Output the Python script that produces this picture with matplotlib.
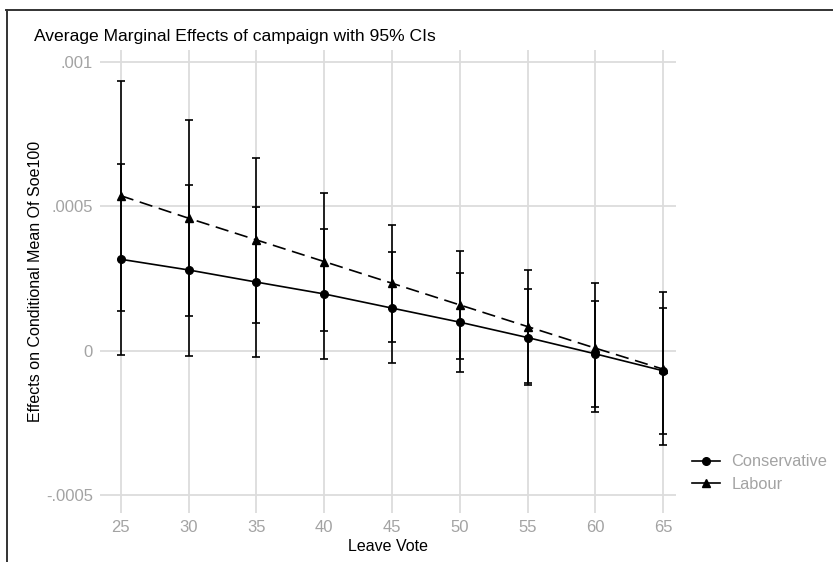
"""Average marginal effects of campaign by Leave vote, with 95% CIs."""

import matplotlib

matplotlib.use("Agg")

import matplotlib.pyplot as plt
from matplotlib.lines import Line2D

plt.rcParams["font.family"] = ["Liberation Sans", "DejaVu Sans"]

GRID, TICK_GREY, INK = "#dcdcdc", "#a3a3a3", "#000000"

leave_vote = [25, 30, 35, 40, 45, 50, 55, 60, 65]

conservative = [0.000316, 0.000279, 0.000237, 0.000196, 0.000147, 0.0000983, 0.000045, -0.0000114, -0.000070]
conservative_lo = [-0.0000149, -0.0000173, -0.0000208, -0.0000298, -0.0000436, -0.0000727, -0.000120, -0.000194, -0.000288]
conservative_hi = [0.000646, 0.000573, 0.000498, 0.000420, 0.000340, 0.000270, 0.000212, 0.000172, 0.000148]

labour = [0.000536, 0.000458, 0.000383, 0.000308, 0.000233, 0.000158, 0.000083, 0.0000083, -0.0000644]
labour_lo = [0.000138, 0.000120, 0.0000969, 0.0000682, 0.000029, -0.0000298, -0.000111, -0.000211, -0.000325]
labour_hi = [0.000933, 0.000798, 0.000668, 0.000545, 0.000434, 0.000345, 0.000279, 0.000233, 0.000202]

y_ticks = [-0.0005, 0, 0.0005, 0.001]
y_tick_labels = ["-.0005", "0", ".0005", ".001"]

fig = plt.figure(figsize=(8.33, 5.62), dpi=100, facecolor="white")
ax = fig.add_axes([0.120, 0.0872, 0.6915, 0.8238])


def draw_series(values, lo, hi, marker, linestyle, label):
    err = [[v - l for v, l in zip(values, lo)], [h - v for v, h in zip(values, hi)]]
    ax.errorbar(leave_vote, values, yerr=err, fmt="none", ecolor=INK,
                elinewidth=1.2, capsize=3, capthick=1.2, zorder=3)
    ax.plot(leave_vote, values, color=INK, linestyle=linestyle, linewidth=1.2,
            marker=marker, markersize=5.5, dashes=(8, 4) if linestyle == "--" else (None, None),
            label=label, zorder=4)


draw_series(labour, labour_lo, labour_hi, "^", "--", "Labour")
draw_series(conservative, conservative_lo, conservative_hi, "o", "-", "Conservative")

ax.set_xlim(23.47, 65.94)
ax.set_ylim(-0.000562, 0.00104)
ax.set_xticks(leave_vote)
ax.set_yticks(y_ticks, y_tick_labels)
ax.tick_params(length=0, labelsize=12, colors=TICK_GREY, pad=5)
ax.grid(True, color=GRID, linewidth=1.3)
ax.set_axisbelow(True)
for side in ax.spines.values():
    side.set_visible(False)

ax.set_xlabel("Leave Vote", fontsize=11.5, color=INK, labelpad=3)
ax.set_ylabel("Effects on Conditional Mean Of Soe100", fontsize=11.5, color=INK, labelpad=2)
fig.text(34 / 833, 1 - 36 / 562, "Average Marginal Effects of campaign with 95% CIs",
         fontsize=12.6, color=INK, va="center", ha="left")

handles = [
    Line2D([], [], color=INK, marker="o", markersize=5.5, linewidth=1.2),
    Line2D([], [], color=INK, marker="^", markersize=5.5, linewidth=1.2),
]
legend = fig.legend(handles, ["Conservative", "Labour"], loc="center left",
                    bbox_to_anchor=(692 / 833, 1 - 473 / 562), frameon=False,
                    fontsize=11.8, handlelength=1.7, handletextpad=0.7,
                    labelspacing=0.45, borderpad=0, borderaxespad=0)
for text in legend.get_texts():
    text.set_color(TICK_GREY)

# page frame: only top and left edges are visible in the source
fig.add_artist(Line2D([6 / 833, 1], [1 - 10 / 562, 1 - 10 / 562], color="#333333", linewidth=1.4))
fig.add_artist(Line2D([7 / 833, 7 / 833], [0, 1 - 10 / 562], color="#333333", linewidth=1.4))

fig.savefig("out.png", dpi=100, facecolor="white")
plt.close(fig)
